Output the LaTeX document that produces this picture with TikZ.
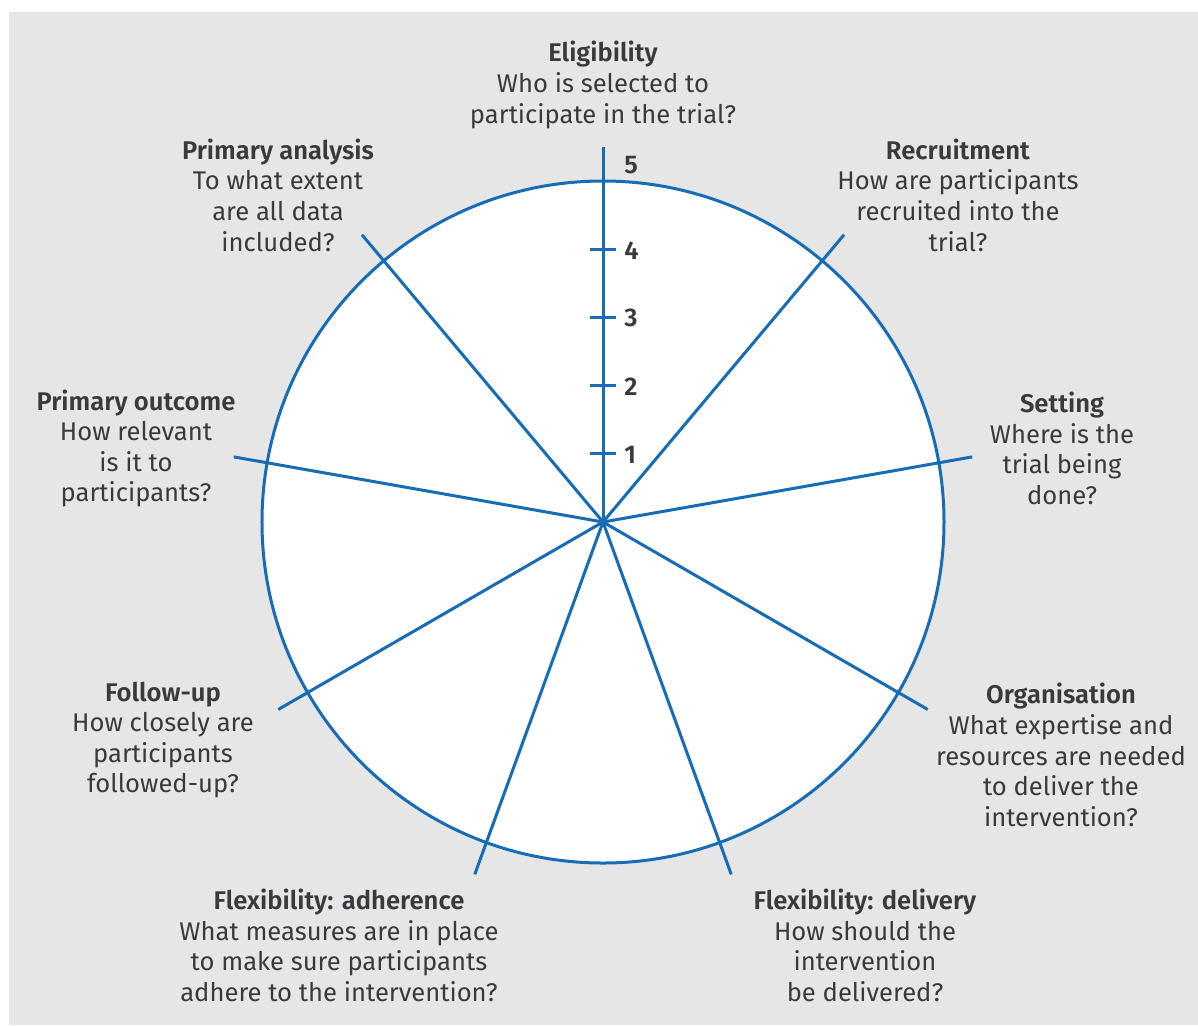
\documentclass[tikz,border=0pt]{standalone}
\usepackage{fontspec}
\setmainfont{Fira Sans}[BoldFont={Fira Sans SemiBold}]
\usepackage{xcolor}
\definecolor{spokeblue}{RGB}{22,108,182}
\definecolor{textgray}{RGB}{58,58,62}
\definecolor{bggray}{RGB}{230,230,230}

\tikzset{
  wheel/.style = {draw=spokeblue, line width=1.5pt},
  pillar/.style = {align=center, text=textgray, inner sep=0pt,
    font=\fontsize{12.8}{15.3}\selectfont},
  scalenum/.style = {text=textgray, inner sep=0pt, anchor=west,
    font=\fontsize{12.8}{15.3}\selectfont\bfseries},
}

\begin{document}
\begin{tikzpicture}[x=0.5pt, y=0.5pt]
\useasboundingbox (-603,-503) rectangle (595,522);
\path [fill=bggray] (-594,-503) rectangle (595,510);
\coordinate (c) at (0,0);
\draw [wheel, fill=white] (c) circle (341); % the wheel
\foreach \a in {90,50,...,-230}
  \draw [wheel] (c) -- (\a:375);
% scale on the eligibility spoke
\foreach \i in {1,...,4}
  \draw [wheel] (-13,68.2*\i) -- (13,68.2*\i);
\node [scalenum] (s1) at (21,67) {1};
\node [scalenum] (s2) at (21,135.4) {2};
\node [scalenum] (s3) at (21,203.6) {3};
\node [scalenum] (s4) at (21,271.8) {4};
\node [scalenum] (s5) at (21,357) {5};
% pillars
\node [pillar] (elig) at (0,437) {\textbf{Eligibility}\\Who is selected to\\participate in the trial?};
\node [pillar] (recr) at (355,327) {\textbf{Recruitment}\\How are participants\\recruited into the\\trial?};
\node [pillar] (sett) at (459,73.5) {\textbf{Setting}\\Where is the\\trial being\\done?};
\node [pillar] (orga) at (458,-233) {\textbf{Organisation}\\What expertise and\\resources are needed\\to deliver the\\intervention?};
\node [pillar] (deli) at (262,-423.5) {\textbf{Flexibility: delivery}\\How should the\\intervention\\be delivered?};
\node [pillar] (adhe) at (-264,-423.5) {\textbf{Flexibility: adherence}\\What measures are in place\\to make sure participants\\adhere to the intervention?};
\node [pillar] (foll) at (-440,-218) {\textbf{Follow-up}\\How closely are\\participants\\followed-up?};
\node [pillar] (outc) at (-467,73.5) {\textbf{Primary outcome}\\How relevant\\is it to\\participants?};
\node [pillar] (anal) at (-325,327) {\textbf{Primary analysis}\\To what extent\\are all data\\included?};
\end{tikzpicture}
\end{document}
